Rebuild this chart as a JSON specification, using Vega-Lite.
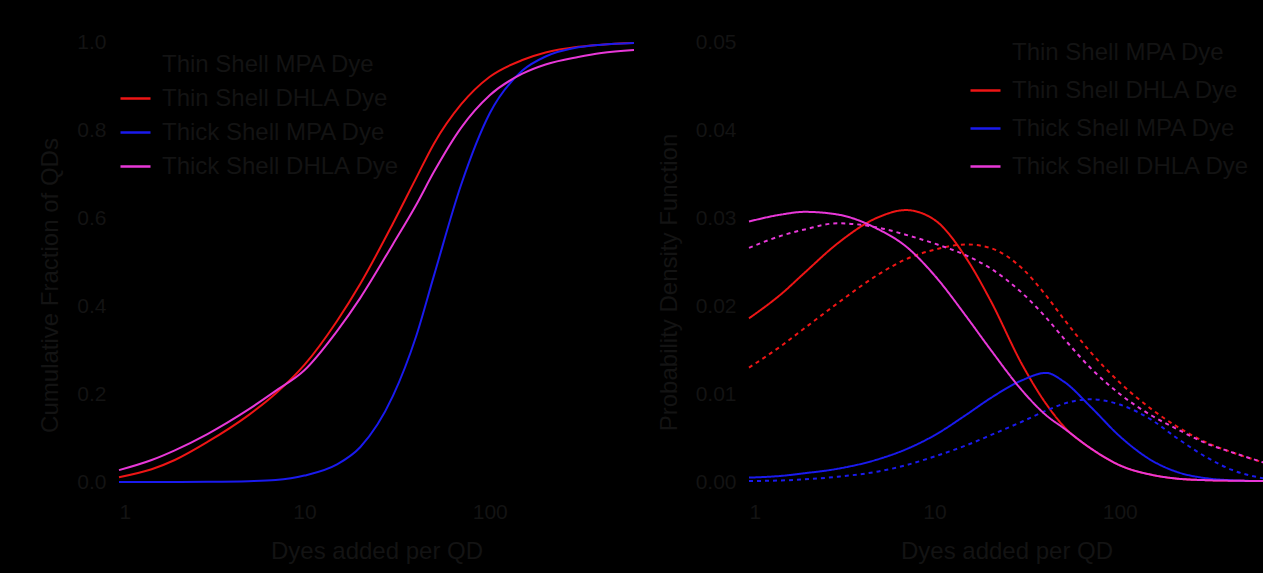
{
  "$schema": "https://vega.github.io/schema/vega-lite/v6.json",
  "background": "#000000",
  "padding": {"left": 38, "top": 31, "right": 10, "bottom": 25},
  "spacing": 115,
  "bounds": "flush",
  "config": {
    "view": {"stroke": null},
    "font": "Liberation Sans",
    "axis": {"domainColor": "#000000", "tickColor": "#000000", "labelColor": "#131313", "titleColor": "#131313", "grid": false, "labelFontSize": 21, "titleFontSize": 24, "titleFontWeight": "normal", "tickSize": 5, "labelPadding": 8, "titlePadding": 14},
    "legend": {"labelColor": "#131313", "labelFontSize": 24, "labelLimit": 400, "symbolType": "stroke", "symbolSize": 900, "symbolStrokeWidth": 2.5, "labelOffset": 10, "rowPadding": 5, "orient": "none"}
  },
  "resolve": {"scale": {"color": "independent"}, "legend": {"color": "independent"}},
  "datasets": {
    "left": [
      {"x": 1, "y": 0.011, "series": "Thin Shell DHLA Dye"},
      {"x": 1.5, "y": 0.029, "series": "Thin Shell DHLA Dye"},
      {"x": 2, "y": 0.050, "series": "Thin Shell DHLA Dye"},
      {"x": 3, "y": 0.091, "series": "Thin Shell DHLA Dye"},
      {"x": 5, "y": 0.152, "series": "Thin Shell DHLA Dye"},
      {"x": 7, "y": 0.201, "series": "Thin Shell DHLA Dye"},
      {"x": 10, "y": 0.266, "series": "Thin Shell DHLA Dye"},
      {"x": 15, "y": 0.366, "series": "Thin Shell DHLA Dye"},
      {"x": 20, "y": 0.450, "series": "Thin Shell DHLA Dye"},
      {"x": 30, "y": 0.587, "series": "Thin Shell DHLA Dye"},
      {"x": 40, "y": 0.690, "series": "Thin Shell DHLA Dye"},
      {"x": 50, "y": 0.769, "series": "Thin Shell DHLA Dye"},
      {"x": 70, "y": 0.858, "series": "Thin Shell DHLA Dye"},
      {"x": 100, "y": 0.921, "series": "Thin Shell DHLA Dye"},
      {"x": 150, "y": 0.959, "series": "Thin Shell DHLA Dye"},
      {"x": 200, "y": 0.976, "series": "Thin Shell DHLA Dye"},
      {"x": 300, "y": 0.989, "series": "Thin Shell DHLA Dye"},
      {"x": 400, "y": 0.994, "series": "Thin Shell DHLA Dye"},
      {"x": 600, "y": 0.9975, "series": "Thin Shell DHLA Dye"},
      {"x": 1, "y": 0.00004, "series": "Thick Shell MPA Dye"},
      {"x": 1.5, "y": 0.0001, "series": "Thick Shell MPA Dye"},
      {"x": 2, "y": 0.0002, "series": "Thick Shell MPA Dye"},
      {"x": 3, "y": 0.0005, "series": "Thick Shell MPA Dye"},
      {"x": 5, "y": 0.0019, "series": "Thick Shell MPA Dye"},
      {"x": 7, "y": 0.0045, "series": "Thick Shell MPA Dye"},
      {"x": 10, "y": 0.0146, "series": "Thick Shell MPA Dye"},
      {"x": 15, "y": 0.040, "series": "Thick Shell MPA Dye"},
      {"x": 20, "y": 0.079, "series": "Thick Shell MPA Dye"},
      {"x": 30, "y": 0.195, "series": "Thick Shell MPA Dye"},
      {"x": 40, "y": 0.330, "series": "Thick Shell MPA Dye"},
      {"x": 50, "y": 0.469, "series": "Thick Shell MPA Dye"},
      {"x": 70, "y": 0.675, "series": "Thick Shell MPA Dye"},
      {"x": 100, "y": 0.838, "series": "Thick Shell MPA Dye"},
      {"x": 150, "y": 0.935, "series": "Thick Shell MPA Dye"},
      {"x": 200, "y": 0.967, "series": "Thick Shell MPA Dye"},
      {"x": 300, "y": 0.988, "series": "Thick Shell MPA Dye"},
      {"x": 400, "y": 0.994, "series": "Thick Shell MPA Dye"},
      {"x": 600, "y": 0.998, "series": "Thick Shell MPA Dye"},
      {"x": 1, "y": 0.027, "series": "Thick Shell DHLA Dye"},
      {"x": 1.5, "y": 0.050, "series": "Thick Shell DHLA Dye"},
      {"x": 2, "y": 0.072, "series": "Thick Shell DHLA Dye"},
      {"x": 3, "y": 0.109, "series": "Thick Shell DHLA Dye"},
      {"x": 5, "y": 0.165, "series": "Thick Shell DHLA Dye"},
      {"x": 7, "y": 0.207, "series": "Thick Shell DHLA Dye"},
      {"x": 10, "y": 0.254, "series": "Thick Shell DHLA Dye"},
      {"x": 15, "y": 0.343, "series": "Thick Shell DHLA Dye"},
      {"x": 20, "y": 0.418, "series": "Thick Shell DHLA Dye"},
      {"x": 30, "y": 0.540, "series": "Thick Shell DHLA Dye"},
      {"x": 40, "y": 0.629, "series": "Thick Shell DHLA Dye"},
      {"x": 50, "y": 0.705, "series": "Thick Shell DHLA Dye"},
      {"x": 70, "y": 0.805, "series": "Thick Shell DHLA Dye"},
      {"x": 100, "y": 0.879, "series": "Thick Shell DHLA Dye"},
      {"x": 150, "y": 0.928, "series": "Thick Shell DHLA Dye"},
      {"x": 200, "y": 0.949, "series": "Thick Shell DHLA Dye"},
      {"x": 300, "y": 0.966, "series": "Thick Shell DHLA Dye"},
      {"x": 400, "y": 0.975, "series": "Thick Shell DHLA Dye"},
      {"x": 600, "y": 0.982, "series": "Thick Shell DHLA Dye"}
    ],
    "right": [
      {"x": 1, "y": 0.0186, "series": "Thin Shell DHLA Dye", "style": "solid"},
      {"x": 1.5, "y": 0.0214, "series": "Thin Shell DHLA Dye", "style": "solid"},
      {"x": 2, "y": 0.0238, "series": "Thin Shell DHLA Dye", "style": "solid"},
      {"x": 3, "y": 0.0271, "series": "Thin Shell DHLA Dye", "style": "solid"},
      {"x": 5, "y": 0.0301, "series": "Thin Shell DHLA Dye", "style": "solid"},
      {"x": 7, "y": 0.0309, "series": "Thin Shell DHLA Dye", "style": "solid"},
      {"x": 10, "y": 0.0298, "series": "Thin Shell DHLA Dye", "style": "solid"},
      {"x": 15, "y": 0.0253, "series": "Thin Shell DHLA Dye", "style": "solid"},
      {"x": 20, "y": 0.0207, "series": "Thin Shell DHLA Dye", "style": "solid"},
      {"x": 30, "y": 0.0132, "series": "Thin Shell DHLA Dye", "style": "solid"},
      {"x": 40, "y": 0.0089, "series": "Thin Shell DHLA Dye", "style": "solid"},
      {"x": 50, "y": 0.0063, "series": "Thin Shell DHLA Dye", "style": "solid"},
      {"x": 70, "y": 0.0038, "series": "Thin Shell DHLA Dye", "style": "solid"},
      {"x": 100, "y": 0.0019, "series": "Thin Shell DHLA Dye", "style": "solid"},
      {"x": 150, "y": 0.0008, "series": "Thin Shell DHLA Dye", "style": "solid"},
      {"x": 200, "y": 0.0004, "series": "Thin Shell DHLA Dye", "style": "solid"},
      {"x": 300, "y": 0.0002, "series": "Thin Shell DHLA Dye", "style": "solid"},
      {"x": 400, "y": 0.00015, "series": "Thin Shell DHLA Dye", "style": "solid"},
      {"x": 600, "y": 0.0001, "series": "Thin Shell DHLA Dye", "style": "solid"},
      {"x": 1, "y": 0.0130, "series": "Thin Shell DHLA Dye", "style": "dashed"},
      {"x": 1.5, "y": 0.0155, "series": "Thin Shell DHLA Dye", "style": "dashed"},
      {"x": 2, "y": 0.0175, "series": "Thin Shell DHLA Dye", "style": "dashed"},
      {"x": 3, "y": 0.0203, "series": "Thin Shell DHLA Dye", "style": "dashed"},
      {"x": 5, "y": 0.0236, "series": "Thin Shell DHLA Dye", "style": "dashed"},
      {"x": 7, "y": 0.0253, "series": "Thin Shell DHLA Dye", "style": "dashed"},
      {"x": 10, "y": 0.0264, "series": "Thin Shell DHLA Dye", "style": "dashed"},
      {"x": 15, "y": 0.0270, "series": "Thin Shell DHLA Dye", "style": "dashed"},
      {"x": 20, "y": 0.0266, "series": "Thin Shell DHLA Dye", "style": "dashed"},
      {"x": 30, "y": 0.0242, "series": "Thin Shell DHLA Dye", "style": "dashed"},
      {"x": 40, "y": 0.0212, "series": "Thin Shell DHLA Dye", "style": "dashed"},
      {"x": 50, "y": 0.0185, "series": "Thin Shell DHLA Dye", "style": "dashed"},
      {"x": 70, "y": 0.0147, "series": "Thin Shell DHLA Dye", "style": "dashed"},
      {"x": 100, "y": 0.0113, "series": "Thin Shell DHLA Dye", "style": "dashed"},
      {"x": 150, "y": 0.0082, "series": "Thin Shell DHLA Dye", "style": "dashed"},
      {"x": 200, "y": 0.0064, "series": "Thin Shell DHLA Dye", "style": "dashed"},
      {"x": 300, "y": 0.0044, "series": "Thin Shell DHLA Dye", "style": "dashed"},
      {"x": 400, "y": 0.0034, "series": "Thin Shell DHLA Dye", "style": "dashed"},
      {"x": 600, "y": 0.0022, "series": "Thin Shell DHLA Dye", "style": "dashed"},
      {"x": 1, "y": 0.0005, "series": "Thick Shell MPA Dye", "style": "solid"},
      {"x": 1.5, "y": 0.0007, "series": "Thick Shell MPA Dye", "style": "solid"},
      {"x": 2, "y": 0.0010, "series": "Thick Shell MPA Dye", "style": "solid"},
      {"x": 3, "y": 0.0015, "series": "Thick Shell MPA Dye", "style": "solid"},
      {"x": 5, "y": 0.0026, "series": "Thick Shell MPA Dye", "style": "solid"},
      {"x": 7, "y": 0.0037, "series": "Thick Shell MPA Dye", "style": "solid"},
      {"x": 10, "y": 0.0053, "series": "Thick Shell MPA Dye", "style": "solid"},
      {"x": 15, "y": 0.0077, "series": "Thick Shell MPA Dye", "style": "solid"},
      {"x": 20, "y": 0.0095, "series": "Thick Shell MPA Dye", "style": "solid"},
      {"x": 30, "y": 0.0116, "series": "Thick Shell MPA Dye", "style": "solid"},
      {"x": 40, "y": 0.0124, "series": "Thick Shell MPA Dye", "style": "solid"},
      {"x": 50, "y": 0.0114, "series": "Thick Shell MPA Dye", "style": "solid"},
      {"x": 70, "y": 0.0085, "series": "Thick Shell MPA Dye", "style": "solid"},
      {"x": 100, "y": 0.0052, "series": "Thick Shell MPA Dye", "style": "solid"},
      {"x": 150, "y": 0.0024, "series": "Thick Shell MPA Dye", "style": "solid"},
      {"x": 200, "y": 0.0012, "series": "Thick Shell MPA Dye", "style": "solid"},
      {"x": 300, "y": 0.0004, "series": "Thick Shell MPA Dye", "style": "solid"},
      {"x": 400, "y": 0.0002, "series": "Thick Shell MPA Dye", "style": "solid"},
      {"x": 600, "y": 0.0001, "series": "Thick Shell MPA Dye", "style": "solid"},
      {"x": 1, "y": 0.0001, "series": "Thick Shell MPA Dye", "style": "dashed"},
      {"x": 1.5, "y": 0.00018, "series": "Thick Shell MPA Dye", "style": "dashed"},
      {"x": 2, "y": 0.0003, "series": "Thick Shell MPA Dye", "style": "dashed"},
      {"x": 3, "y": 0.0006, "series": "Thick Shell MPA Dye", "style": "dashed"},
      {"x": 5, "y": 0.0012, "series": "Thick Shell MPA Dye", "style": "dashed"},
      {"x": 7, "y": 0.0019, "series": "Thick Shell MPA Dye", "style": "dashed"},
      {"x": 10, "y": 0.0029, "series": "Thick Shell MPA Dye", "style": "dashed"},
      {"x": 15, "y": 0.0042, "series": "Thick Shell MPA Dye", "style": "dashed"},
      {"x": 20, "y": 0.0053, "series": "Thick Shell MPA Dye", "style": "dashed"},
      {"x": 30, "y": 0.0069, "series": "Thick Shell MPA Dye", "style": "dashed"},
      {"x": 40, "y": 0.0081, "series": "Thick Shell MPA Dye", "style": "dashed"},
      {"x": 50, "y": 0.0089, "series": "Thick Shell MPA Dye", "style": "dashed"},
      {"x": 70, "y": 0.0094, "series": "Thick Shell MPA Dye", "style": "dashed"},
      {"x": 100, "y": 0.0088, "series": "Thick Shell MPA Dye", "style": "dashed"},
      {"x": 150, "y": 0.0070, "series": "Thick Shell MPA Dye", "style": "dashed"},
      {"x": 200, "y": 0.0051, "series": "Thick Shell MPA Dye", "style": "dashed"},
      {"x": 300, "y": 0.0027, "series": "Thick Shell MPA Dye", "style": "dashed"},
      {"x": 400, "y": 0.0014, "series": "Thick Shell MPA Dye", "style": "dashed"},
      {"x": 600, "y": 0.0004, "series": "Thick Shell MPA Dye", "style": "dashed"},
      {"x": 1, "y": 0.0296, "series": "Thick Shell DHLA Dye", "style": "solid"},
      {"x": 1.5, "y": 0.0304, "series": "Thick Shell DHLA Dye", "style": "solid"},
      {"x": 2, "y": 0.0307, "series": "Thick Shell DHLA Dye", "style": "solid"},
      {"x": 3, "y": 0.0304, "series": "Thick Shell DHLA Dye", "style": "solid"},
      {"x": 5, "y": 0.0287, "series": "Thick Shell DHLA Dye", "style": "solid"},
      {"x": 7, "y": 0.0268, "series": "Thick Shell DHLA Dye", "style": "solid"},
      {"x": 10, "y": 0.0235, "series": "Thick Shell DHLA Dye", "style": "solid"},
      {"x": 15, "y": 0.0187, "series": "Thick Shell DHLA Dye", "style": "solid"},
      {"x": 20, "y": 0.0151, "series": "Thick Shell DHLA Dye", "style": "solid"},
      {"x": 30, "y": 0.0103, "series": "Thick Shell DHLA Dye", "style": "solid"},
      {"x": 40, "y": 0.0076, "series": "Thick Shell DHLA Dye", "style": "solid"},
      {"x": 50, "y": 0.0061, "series": "Thick Shell DHLA Dye", "style": "solid"},
      {"x": 70, "y": 0.0038, "series": "Thick Shell DHLA Dye", "style": "solid"},
      {"x": 100, "y": 0.0019, "series": "Thick Shell DHLA Dye", "style": "solid"},
      {"x": 150, "y": 0.0008, "series": "Thick Shell DHLA Dye", "style": "solid"},
      {"x": 200, "y": 0.0004, "series": "Thick Shell DHLA Dye", "style": "solid"},
      {"x": 300, "y": 0.0002, "series": "Thick Shell DHLA Dye", "style": "solid"},
      {"x": 400, "y": 0.00015, "series": "Thick Shell DHLA Dye", "style": "solid"},
      {"x": 600, "y": 0.0001, "series": "Thick Shell DHLA Dye", "style": "solid"},
      {"x": 1, "y": 0.0266, "series": "Thick Shell DHLA Dye", "style": "dashed"},
      {"x": 1.5, "y": 0.0280, "series": "Thick Shell DHLA Dye", "style": "dashed"},
      {"x": 2, "y": 0.0287, "series": "Thick Shell DHLA Dye", "style": "dashed"},
      {"x": 3, "y": 0.0294, "series": "Thick Shell DHLA Dye", "style": "dashed"},
      {"x": 5, "y": 0.0289, "series": "Thick Shell DHLA Dye", "style": "dashed"},
      {"x": 7, "y": 0.0281, "series": "Thick Shell DHLA Dye", "style": "dashed"},
      {"x": 10, "y": 0.0271, "series": "Thick Shell DHLA Dye", "style": "dashed"},
      {"x": 15, "y": 0.0257, "series": "Thick Shell DHLA Dye", "style": "dashed"},
      {"x": 20, "y": 0.0243, "series": "Thick Shell DHLA Dye", "style": "dashed"},
      {"x": 30, "y": 0.0214, "series": "Thick Shell DHLA Dye", "style": "dashed"},
      {"x": 40, "y": 0.0187, "series": "Thick Shell DHLA Dye", "style": "dashed"},
      {"x": 50, "y": 0.0163, "series": "Thick Shell DHLA Dye", "style": "dashed"},
      {"x": 70, "y": 0.0129, "series": "Thick Shell DHLA Dye", "style": "dashed"},
      {"x": 100, "y": 0.0100, "series": "Thick Shell DHLA Dye", "style": "dashed"},
      {"x": 150, "y": 0.0075, "series": "Thick Shell DHLA Dye", "style": "dashed"},
      {"x": 200, "y": 0.0061, "series": "Thick Shell DHLA Dye", "style": "dashed"},
      {"x": 300, "y": 0.0043, "series": "Thick Shell DHLA Dye", "style": "dashed"},
      {"x": 400, "y": 0.0034, "series": "Thick Shell DHLA Dye", "style": "dashed"},
      {"x": 600, "y": 0.0022, "series": "Thick Shell DHLA Dye", "style": "dashed"}
    ]
  },
  "hconcat": [
    {
      "width": 515,
      "height": 440,
      "data": {"name": "left"},
      "mark": {"type": "line", "strokeWidth": 2, "interpolate": "monotone"},
      "encoding": {
        "x": {"field": "x", "type": "quantitative", "scale": {"type": "log", "domain": [1, 600], "nice": false},
          "axis": {"values": [1, 10, 100], "format": "d", "title": "Dyes added per QD", "labelPadding": 14, "titlePadding": 17}},
        "y": {"field": "y", "type": "quantitative", "scale": {"domain": [0, 1], "nice": false},
          "axis": {"values": [0, 0.2, 0.4, 0.6, 0.8, 1.0], "format": ".1f", "title": "Cumulative Fraction of QDs", "titleY": 243}},
        "color": {"field": "series", "type": "nominal",
          "scale": {"domain": ["Thin Shell MPA Dye", "Thin Shell DHLA Dye", "Thick Shell MPA Dye", "Thick Shell DHLA Dye"], "range": ["#000000", "#ee1515", "#1a1aee", "#e838d8"]},
          "legend": {"title": null, "legendX": 0, "legendY": 6, "rowPadding": 5}}
      }
    },
    {
      "width": 515,
      "height": 440,
      "data": {"name": "right"},
      "mark": {"type": "line", "strokeWidth": 2, "interpolate": "monotone"},
      "encoding": {
        "x": {"field": "x", "type": "quantitative", "scale": {"type": "log", "domain": [1, 600], "nice": false},
          "axis": {"values": [1, 10, 100], "format": "d", "title": "Dyes added per QD", "labelPadding": 14, "titlePadding": 17}},
        "y": {"field": "y", "type": "quantitative", "scale": {"domain": [0, 0.05], "nice": false},
          "axis": {"values": [0, 0.01, 0.02, 0.03, 0.04, 0.05], "format": ".2f", "title": "Probability Density Function", "titleY": 240}},
        "color": {"field": "series", "type": "nominal",
          "scale": {"domain": ["Thin Shell MPA Dye", "Thin Shell DHLA Dye", "Thick Shell MPA Dye", "Thick Shell DHLA Dye"], "range": ["#000000", "#ee1515", "#1a1aee", "#e838d8"]},
          "legend": {"title": null, "legendX": 220, "legendY": -6, "rowPadding": 9}},
        "strokeDash": {"field": "style", "type": "nominal", "scale": {"domain": ["solid", "dashed"], "range": [[1, 0], [4, 4]]}, "legend": null}
      }
    }
  ]
}
